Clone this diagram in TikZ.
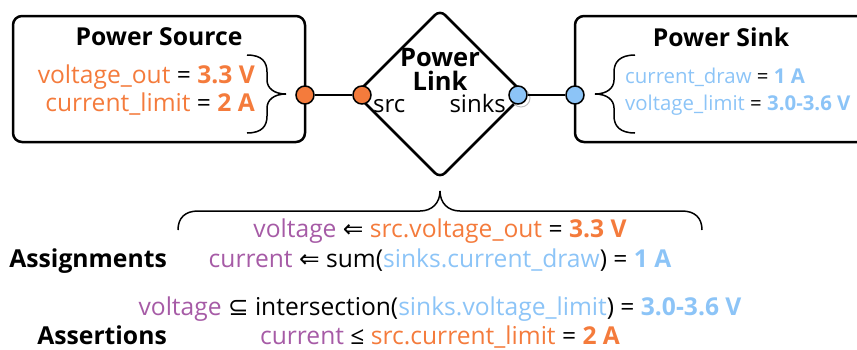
\documentclass[tikz,border=0pt]{standalone}
\usepackage{fontspec}
\setmainfont{Open Sans}
\newfontfamily\symf{DejaVu Sans}
\definecolor{orng}{HTML}{F47B3C}
\definecolor{skyb}{HTML}{8CC4F7}
\definecolor{purp}{HTML}{A65BA6}
\newcommand{\lft}{{\symf\char"21D0}}
\newcommand{\subeq}{{\symf\char"2286}}
\begin{document}
\begin{tikzpicture}[x=1pt,y=-1pt,
  box/.style={draw,line width=2.5pt,rounded corners=9pt},
  port/.style={circle,draw,line width=1.5pt,minimum size=18pt,inner sep=0pt},
  txt/.style={inner sep=0pt,font=\fontsize{24.6}{29}\selectfont},
  stxt/.style={inner sep=0pt,font=\fontsize{20.4}{24}\selectfont},
  btxt/.style={inner sep=0pt,font=\fontsize{24.6}{29}\selectfont},
  ttl/.style={inner sep=0pt,font=\fontsize{24.7}{29}\selectfont\bfseries},
  brc/.style={line width=1.5pt},
  wire/.style={line width=2pt}]
\useasboundingbox (0,0) rectangle (857,349);
\clip (0,0) rectangle (857,349);
% boxes
\draw[box] (13,16) rectangle (305,142);
\draw[box] (575,16) rectangle (890,142);
\draw[box,rounded corners=7pt] (356,94) -- (440,10) -- (524,94) -- (440,178) -- cycle;
% ports
\node[port,fill=orng] (so) at (305,95) {};
\node[port,fill=orng] (li) at (362,95) {};
\node[port,draw=gray!50,line width=1pt] (gh) at (521,98) {};
\node[port,fill=skyb] (lo) at (518,95) {};
\node[port,fill=skyb] (si) at (575,95) {};
\draw[wire] (so) -- (li);
\draw[wire] (lo) -- (si);
% titles
\node[ttl] (t1) at (159,37) {Power Source};
\node[ttl] (t2) at (721,37) {Power Sink};
\node[ttl,align=center,font=\fontsize{25.5}{24}\selectfont\bfseries] (t3) at (440,69) {Power\\Link};
\node[txt,anchor=base west,font=\fontsize{24}{28}\selectfont] (src) at (373,112) {src};
\node[txt,anchor=base east,font=\fontsize{24}{28}\selectfont] (snk) at (506,112) {sinks};
% left params
\node[txt,anchor=base east] (p1) at (255,83) {\textcolor{orng}{voltage\_out} = \textcolor{orng}{\bfseries 3.3 V}};
\node[txt,anchor=base east] (p2) at (255,111) {\textcolor{orng}{current\_limit} = \textcolor{orng}{\bfseries 2 A}};
\draw[brc] (247,55) .. controls (262,55) and (267,62) .. (267,72) -- (267,80) .. controls (267,88) and (274,94) .. (286,94) .. controls (274,94) and (267,100) .. (267,108) -- (267,116) .. controls (267,126) and (262,133) .. (247,133);
% right params
\node[stxt,anchor=base west] (q1) at (625,83) {\textcolor{skyb}{current\_draw} = \textcolor{skyb}{\bfseries 1 A}};
\node[stxt,anchor=base west] (q2) at (625,110) {\textcolor{skyb}{voltage\_limit} = \textcolor{skyb}{\bfseries 3.0-3.6 V}};
\draw[brc] (635,55) .. controls (620,55) and (614,62) .. (614,72) -- (614,80) .. controls (614,88) and (607,94) .. (595,94) .. controls (607,94) and (614,100) .. (614,108) -- (614,116) .. controls (614,126) and (620,133) .. (635,133);
% bottom brace
\draw[brc] (178,230) .. controls (178,218) and (185,211) .. (198,211) -- (420,211) .. controls (432,211) and (440,203) .. (440,191) .. controls (440,203) and (448,211) .. (460,211) -- (682,211) .. controls (695,211) and (702,218) .. (702,230);
% bottom text
\node[btxt,anchor=base] (a1) at (440,237) {\textcolor{purp}{voltage} \lft{} \textcolor{orng}{src.voltage\_out} = \textcolor{orng}{\bfseries 3.3 V}};
\node[btxt,anchor=base] (a2) at (440,267) {\textcolor{purp}{current} \lft{} sum(\textcolor{skyb}{sinks.current\_draw}) = \textcolor{skyb}{\bfseries 1 A}};
\node[btxt,anchor=base] (a3) at (440,315) {\textcolor{purp}{voltage} \subeq{} intersection(\textcolor{skyb}{sinks.voltage\_limit}) = \textcolor{skyb}{\bfseries 3.0-3.6 V}};
\node[btxt,anchor=base] (a4) at (440,344) {\textcolor{purp}{current} ≤ \textcolor{orng}{src.current\_limit} = \textcolor{orng}{\bfseries 2 A}};
\node[ttl,anchor=base east] (h1) at (167,267) {Assignments};
\node[ttl,anchor=base east] (h2) at (167,344) {Assertions};
\end{tikzpicture}
\end{document}
